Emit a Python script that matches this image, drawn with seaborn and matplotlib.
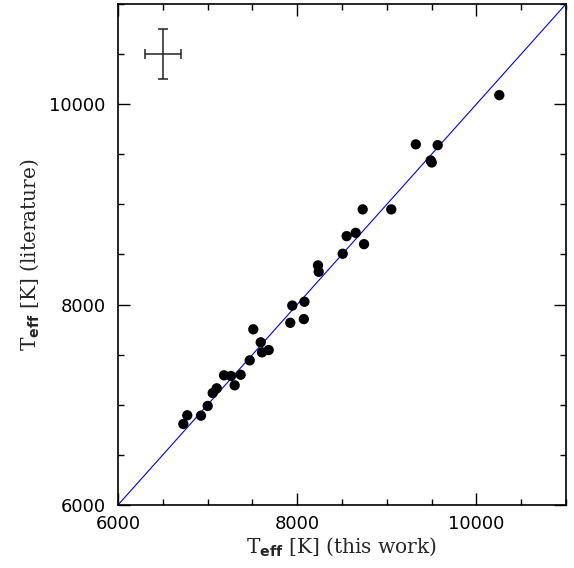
import numpy as np
import pandas as pd
import matplotlib
matplotlib.use("Agg")
import matplotlib.pyplot as plt
import seaborn as sns

# Teff comparison: this work vs literature
teff_this_work = [10256, 9324, 9568, 9490, 9502, 8731, 9050, 8552, 8653, 8746,
                  8508, 8232, 8240, 7945, 8081, 7923, 8074, 7510, 7593, 7607,
                  7682, 7470, 7183, 7261, 7369, 7302, 7102, 7057, 7001, 6926,
                  6773, 6729]
teff_literature = [10090, 9599, 9591, 9438, 9418, 8950, 8950, 8683, 8716, 8603,
                   8507, 8391, 8327, 7990, 8028, 7818, 7855, 7753, 7623, 7523,
                   7546, 7443, 7294, 7287, 7300, 7194, 7164, 7117, 6988, 6891,
                   6895, 6808]

# typical error bar shown in the corner
err_pos = (6500, 10500)
err_x = 200
err_y = 250

axis_lim = [6000, 11000]

sns.set_theme(style="ticks")
plt.rcParams.update({
    'font.family': ['DejaVu Sans'],
    'mathtext.fontset': 'dejavusans',
    'xtick.direction': 'in',
    'ytick.direction': 'in',
    'xtick.top': True,
    'ytick.right': True,
    'axes.linewidth': 1.2,
    'axes.edgecolor': 'black',
})

df = pd.DataFrame({'this_work': teff_this_work, 'literature': teff_literature})

fig = plt.figure(figsize=(5.74, 5.68), dpi=100)
ax = fig.add_axes([0.2056, 0.111, 0.7804, 0.882])

# 1:1 line
ax.plot(axis_lim, axis_lim, color='blue', lw=0.8, zorder=1)

sns.scatterplot(data=df, x='this_work', y='literature', ax=ax, color='black',
                s=55, edgecolor='none', zorder=3, legend=False)

ax.errorbar([err_pos[0]], [err_pos[1]], xerr=err_x, yerr=err_y, fmt='none',
            ecolor='#222222', elinewidth=1.1, capsize=3.5, capthick=1.1)

ax.set_xlim(axis_lim)
ax.set_ylim(axis_lim)
ax.set_xticks([6000, 8000, 10000])
ax.set_yticks([6000, 8000, 10000])
ax.set_xticks(np.arange(6000, 11001, 500), minor=True)
ax.set_yticks(np.arange(6000, 11001, 500), minor=True)
ax.tick_params(which='major', length=8.6, width=1.0, labelsize=13,
               colors='black')
ax.tick_params(which='minor', length=4.3, width=1.0, colors='black')
ax.tick_params(axis='x', which='major', pad=7)
ax.tick_params(axis='y', which='major', pad=9)
ax.tick_params(axis='x', which='both', top=True)
ax.tick_params(axis='y', which='both', right=True)

ax.set_xlabel(r'T$_{\mathbf{eff}}$ [K] (this work)', fontsize=14.5,
              fontfamily='DejaVu Serif', labelpad=2)
ax.set_ylabel(r'T$_{\mathbf{eff}}$ [K] (literature)', fontsize=14.5,
              fontfamily='DejaVu Serif', labelpad=6)

for s in ax.spines.values():
    s.set_visible(True)

plt.savefig('out.png', dpi=100)
plt.close()
